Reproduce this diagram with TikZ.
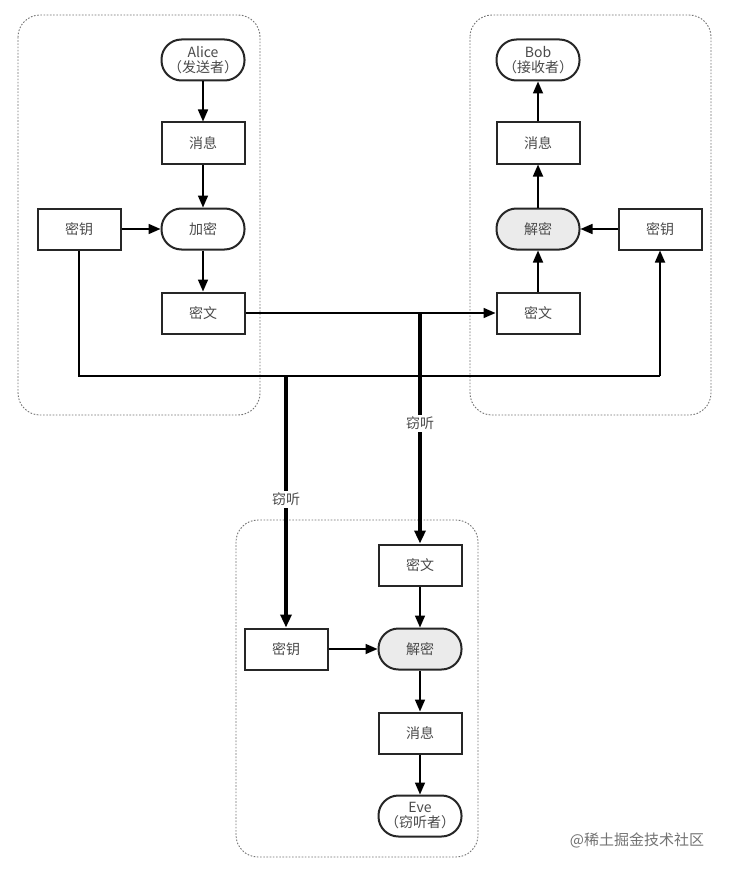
\documentclass[tikz,border=0pt]{standalone}
\usepackage{fontspec}
\setmainfont{Noto Sans CJK SC}
\usetikzlibrary{arrows.meta}
\definecolor{txt}{HTML}{4A4A4A}
\definecolor{decfill}{HTML}{EBEBEB}
\tikzset{
  box/.style={draw=black!85, line width=2pt, minimum width=83pt, minimum height=41pt, inner sep=0pt, font=\fontsize{14}{15}\selectfont, text=txt, fill=white},
  pill/.style={box, rounded corners=20pt},
  gpill/.style={pill, fill=decfill},
  panel/.style={draw=black!55, line width=0.9pt, dash pattern=on 1.6pt off 1.6pt, rounded corners=22pt},
  conn/.style={draw=black, line width=1.7pt, -{Triangle[length=12pt,width=10pt]}},
  plain/.style={draw=black, line width=1.7pt},
  spy/.style={draw=black, line width=3.2pt, -{Triangle[length=13pt,width=11pt]}},
  lbl/.style={fill=white, inner sep=2pt, font=\fontsize{14}{15}\selectfont, text=txt}
}
\begin{document}
\begin{tikzpicture}[x=1pt,y=-1pt]
\useasboundingbox[fill=white] (0,0) rectangle (728,872);
% panels
\draw[panel] (18,15) rectangle (260,415);
\draw[panel] (470,15) rectangle (711,415);
\draw[panel] (236,520) rectangle (478,857);
% left (Alice)
\node[pill, align=center] (alice) at (203,60) {Alice\\（发送者）};
\node[box] (msgA) at (203,143) {消息};
\node[pill] (enc) at (203,229) {加密};
\node[box] (keyA) at (79,229) {密钥};
\node[box] (ctA) at (203,313) {密文};
% right (Bob)
\node[pill, align=center] (bob) at (538,60) {Bob\\（接收者）};
\node[box] (msgB) at (538,143) {消息};
\node[gpill] (decB) at (538,229) {解密};
\node[box] (keyB) at (660,229) {密钥};
\node[box] (ctB) at (538,313) {密文};
% bottom (Eve)
\node[box] (ctE) at (420,565) {密文};
\node[box] (keyE) at (286,649) {密钥};
\node[gpill] (decE) at (420,649) {解密};
\node[box] (msgE) at (420,733) {消息};
\node[pill, align=center] (eve) at (420,816) {Eve\\（窃听者）};
% coordinates
\coordinate (kc1) at (79,376);
\coordinate (kc2) at (660,376);
\coordinate (tapC) at (420,313);
\coordinate (tapK) at (286,376);
% eavesdrop lines
\draw[spy] (tapC) -- node[lbl, pos=0.48] {窃听} (ctE.north);
\draw[spy] (tapK) -- node[lbl, pos=0.49] {窃听} (keyE.north);
% Alice flow
\draw[conn] (alice) -- (msgA);
\draw[conn] (msgA) -- (enc);
\draw[conn] (enc) -- (ctA);
\draw[conn] (keyA) -- (enc);
\draw[conn] (ctA) -- (ctB);
\draw[plain] (keyA.south) -- (kc1) -- (kc2);
\draw[conn] (kc2) -- (keyB.south);
% Bob flow
\draw[conn] (ctB) -- (decB);
\draw[conn] (decB) -- (msgB);
\draw[conn] (msgB) -- (bob);
\draw[conn] (keyB) -- (decB);
% Eve flow
\draw[conn] (ctE) -- (decE);
\draw[conn] (keyE) -- (decE);
\draw[conn] (decE) -- (msgE);
\draw[conn] (msgE) -- (eve);
% watermark
\node[font=\fontsize{15}{16}\selectfont, text=black!55] (wm) at (637,840) {@稀土掘金技术社区};
\end{tikzpicture}
\end{document}
